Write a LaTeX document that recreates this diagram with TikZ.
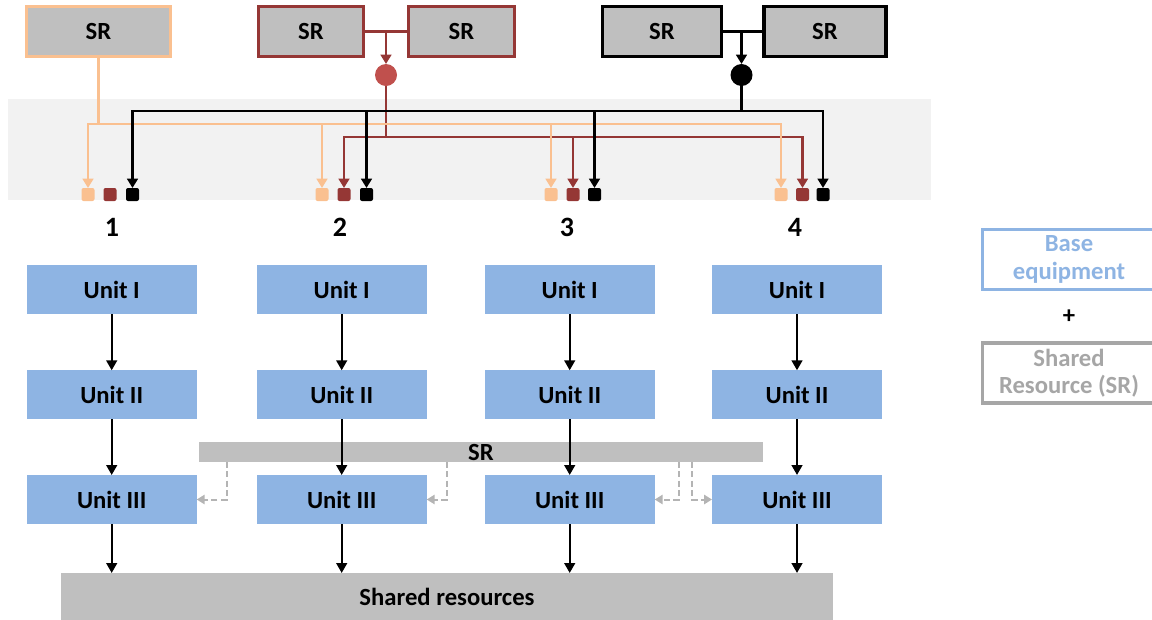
\documentclass[tikz,border=0pt]{standalone}
\usepackage{fontspec}
\setmainfont{Carlito}
\usetikzlibrary{arrows.meta}

\definecolor{srgray}{HTML}{BFBFBF}
\definecolor{unitblue}{HTML}{8EB4E3}
\definecolor{peach}{HTML}{FAC090}
\definecolor{maroon}{HTML}{953735}
\definecolor{brick}{HTML}{C0504D}
\definecolor{bandgray}{HTML}{F2F2F2}
\definecolor{dashgray}{HTML}{B4B4B4}
\definecolor{legendgray}{HTML}{A6A6A6}

\tikzset{
  lbl/.style={font=\bfseries\fontsize{18.5}{20.5}\selectfont},
  pxbox/.style 2 args={rectangle, inner sep=0pt, outer sep=0pt,
    minimum width=#1*0.75pt, minimum height=#2*0.75pt, lbl},
  topsr/.style 2 args={pxbox={#1}{50}, fill=srgray, draw=#2, line width=2.5pt},
  unit/.style={pxbox={170}{49}, fill=unitblue},
  bar/.style 2 args={pxbox={#1}{#2}, fill=srgray},
  hub/.style={circle, inner sep=0pt, outer sep=0pt, minimum size=22*0.75pt, fill=#1},
  port/.style={rectangle, rounded corners=1.5pt, inner sep=0pt, outer sep=0pt,
    minimum size=13*0.75pt, fill=#1},
  feed/.style={line width=1.8pt, draw=#1, -{Triangle[width=8pt,length=7pt]}},
  tie/.style={line width=1.8pt, draw=#1},
  flow/.style={line width=1.8pt, -{Triangle[width=8pt,length=7.5pt]}},
  share/.style={line width=1.5pt, draw=dashgray, dash pattern=on 4.5pt off 2.5pt,
    -{Triangle[width=7pt,length=6pt]}},
  legend/.style 2 args={pxbox={173}{60}, draw=#1, text=#2, line width=2.4pt, align=center},
  colnum/.style={font=\bfseries\fontsize{21}{24}\selectfont},
}

\begin{document}
\begin{tikzpicture}[x=0.75pt,y=-0.75pt]
\clip (0,0) rectangle (1152,619);

% distribution band behind the feeder lines
\fill[bandgray] (8,99) rectangle (931,200);

% shared resource pools at the top
\node[topsr={144}{peach}]  (srO)  at (98.5,31.5) {SR};
\node[topsr={105}{maroon}] (srR1) at (311,31.5)  {SR};
\node[topsr={106}{maroon}] (srR2) at (461.5,31.5) {SR};
\node[topsr={119}{black}]  (srB1) at (662,31.5)  {SR};
\node[topsr={122}{black}]  (srB2) at (825,31.5)  {SR};

% merge points of the paired pools
\coordinate (jR) at (386,31.5);
\coordinate (jB) at (741.5,31.5);
\node[hub=brick] (hR) at (386,75) {};
\node[hub=black] (hB) at (741.5,75) {};
\draw[tie=maroon] (srR1.east) -- (srR2.west);
\draw[tie=black]  (srB1.east) -- (srB2.west);
\draw[feed=maroon] (jR) -- (hR.north);
\draw[feed=black]  (jB) -- (hB.north);

% bus levels
\coordinate (busB) at (741.5,111);
\coordinate (busO) at (98.5,124);
\coordinate (busR) at (386,137);

% input ports of the four lines
\foreach \n/\xo/\xr/\xb in {1/88/110/132.5, 2/322/344/366.5, 3/551/573/594.5, 4/781/802.5/823} {
  \node[port=peach]  (po\n) at (\xo,194.5) {};
  \node[port=maroon] (pr\n) at (\xr,194.5) {};
  \node[port=black]  (pb\n) at (\xb,194.5) {};
}

% feeder lines
\foreach \n in {2,3,4} \draw[feed=maroon] (hR.south) -- (busR) -| (pr\n.north);
\foreach \n in {1,...,4} \draw[feed=peach] (srO.south) -- (busO) -| (po\n.north);
\foreach \n in {1,...,4} \draw[feed=black] (hB.south) -- (busB) -| (pb\n.north);

% line numbers
\foreach \n/\x in {1/112,2/340,3/567,4/795} \node[colnum] (num\n) at (\x,227) {\n};

% shared bars
\node[bar={564}{20}] (srbar)  at (481,452) {SR};
\node[bar={772}{48}] (shared) at (447,597) {Shared resources};

% production units
\foreach \c/\x in {1/111.7,2/341.7,3/569.7,4/797} {
  \node[unit] (ua\c) at (\x,289.5) {Unit I};
  \node[unit] (ub\c) at (\x,394.8) {Unit II};
  \node[unit] (uc\c) at (\x,499.5) {Unit III};
}

\foreach \c in {1,...,4} {
  \draw[flow] (ua\c) -- (ub\c);
  \draw[flow] (ub\c) -- (uc\c);
  \draw[flow] (uc\c.south) -- (uc\c.south |- shared.north);
}

% taps from the shared bar to the third units
\coordinate (tap1) at (226.5,462);
\coordinate (tap2) at (446.7,462);
\coordinate (tap3) at (679,462);
\coordinate (tap4) at (692,462);
\draw[share] (tap1) |- (uc1.east);
\draw[share] (tap2) |- (uc2.east);
\draw[share] (tap3) |- (uc3.east);
\draw[share] (tap4) |- (uc4.west);

% legend
\node[legend={unitblue}{unitblue}] (lgBase) at (1069,259.5) {Base\\equipment};
\node[lbl] (lgPlus) at (1069,316.5) {+};
\node[legend={legendgray}{legendgray}] (lgSR) at (1069,373) {Shared\\Resource (SR)};
\end{tikzpicture}
\end{document}
